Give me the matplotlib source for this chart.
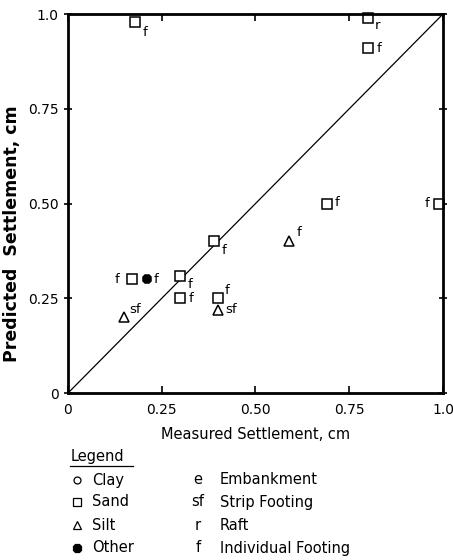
import matplotlib
matplotlib.use("Agg")
import matplotlib.pyplot as plt
from matplotlib.lines import Line2D

# Data
measured = [0.18, 0.80, 0.80, 0.69, 0.99, 0.59, 0.39, 0.17, 0.21, 0.30, 0.30, 0.40, 0.40, 0.15]
predicted = [0.98, 0.99, 0.91, 0.50, 0.50, 0.40, 0.40, 0.30, 0.30, 0.31, 0.25, 0.25, 0.22, 0.20]
soil = ["sand", "sand", "sand", "sand", "sand", "silt", "sand", "sand", "other",
        "sand", "sand", "sand", "silt", "silt"]
footing = ["f", "r", "f", "f", "f", "f", "f", "f", "f", "f", "f", "f", "sf", "sf"]

ticks = [0, 0.25, 0.50, 0.75, 1.0]
tick_labels = ["0", "0.25", "0.50", "0.75", "1.0"]

legend_soil = ["Clay", "Sand", "Silt", "Other"]
legend_codes = ["e", "sf", "r", "f"]
legend_types = ["Embankment", "Strip Footing", "Raft", "Individual Footing"]

# marker style per soil type
styles = {
    "clay": dict(marker="o", mfc="white", ms=6),
    "sand": dict(marker="s", mfc="white", ms=7),
    "silt": dict(marker="^", mfc="white", ms=7),
    "other": dict(marker="8", mfc="black", ms=7),
}
# where the footing code sits relative to each marker (dx, dy in points, ha, va)
label_pos = [
    (5, -3, "left", "top"), (5, -1, "left", "top"), (6, 0, "left", "center"),
    (6, 1, "left", "center"), (-7, 0, "right", "center"), (5, 2, "left", "bottom"),
    (5, -2, "left", "top"), (-9, 0, "right", "center"), (5, 0, "left", "center"),
    (5, -2, "left", "top"), (6, 0, "left", "center"), (5, 1, "left", "bottom"),
    (5, 0, "left", "center"), (4, 1, "left", "bottom"),
]

fig = plt.figure(figsize=(4.53, 5.60), dpi=100)
ax = fig.add_axes([0.150, 0.298, 0.828, 0.677])

ax.plot([0, 1], [0, 1], color="black", lw=0.9)

for x, y, s, c, (dx, dy, ha, va) in zip(measured, predicted, soil, footing, label_pos):
    ax.plot(x, y, ls="none", mec="black", mew=1.1, clip_on=False, **styles[s])
    ax.annotate(c, (x, y), xytext=(dx, dy), textcoords="offset points",
                ha=ha, va=va, fontsize=9.5)

ax.set_xlim(0, 1)
ax.set_ylim(0, 1)
ax.set_xticks(ticks)
ax.set_xticklabels(tick_labels)
ax.set_yticks(ticks)
ax.set_yticklabels(tick_labels)
for sp in ax.spines.values():
    sp.set_linewidth(2)
ax.tick_params(axis="x", direction="in", top=True, length=5, width=1.2, labelsize=10, pad=7)
ax.tick_params(axis="y", direction="inout", right=True, length=6, width=1.2, labelsize=10)

ax.set_xlabel("Measured Settlement, cm", fontsize=10.5, labelpad=7)
ax.set_ylabel("Predicted  Settlement, cm", fontsize=12.5, fontweight="bold")
ax.yaxis.set_label_coords(-0.125, 0.42)

# Legend block below the axes
fs = 10.5
fig.text(0.155, 1 - 457 / 560, "Legend", fontsize=fs, va="center", ha="left")
fig.add_artist(Line2D([0.155, 0.294], [1 - 466 / 560] * 2, color="black", lw=0.9))
soil_keys = ["clay", "sand", "silt", "other"]
rows_y = [480, 502, 525, 548]
for key, name, code, desc, ry in zip(soil_keys, legend_soil, legend_codes, legend_types, rows_y):
    yy = 1 - ry / 560
    st = dict(styles[key])
    st["ms"] = st["ms"] - 1
    fig.add_artist(Line2D([0.170], [yy], ls="none", mec="black", mew=0.9, **st))
    fig.text(0.203, yy, name, fontsize=fs, va="center", ha="left")
    fig.text(0.437, yy, code, fontsize=fs, va="center", ha="center")
    fig.text(0.485, yy, desc, fontsize=fs, va="center", ha="left")

fig.savefig("out.png", dpi=100, facecolor="white")
